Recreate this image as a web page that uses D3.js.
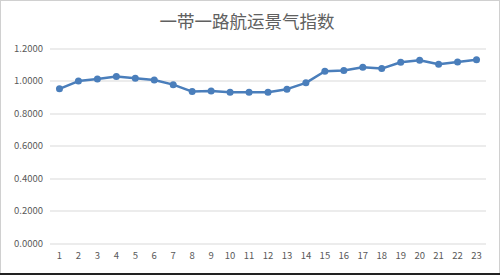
<!DOCTYPE html>
<html>
<head>
<meta charset="utf-8">
<script src="https://cdn.jsdelivr.net/npm/d3@7"></script>
<style>
  body { margin: 0; background: #fff; }
  svg { display: block; }
</style>
</head>
<body>
<div id="chart"></div>
<script>
'use strict'

// data
const categories = d3.range(1, 24).map(String)
const values = [0.951, 0.999, 1.012, 1.027, 1.017, 1.006, 0.977, 0.934, 0.938, 0.930, 0.930, 0.930,
                0.949, 0.988, 1.060, 1.064, 1.084, 1.076, 1.115, 1.128, 1.103, 1.117, 1.130]
const yTicks = [0, 0.2, 0.4, 0.6, 0.8, 1.0, 1.2]
const title = '一带一路航运景气指数'

const svgWidth = 500, svgHeight = 275
const margin = {left: 50, right: 14, top: 48.5, bottom: 32}
const width = svgWidth - margin.left - margin.right
const height = svgHeight - margin.top - margin.bottom

const lineColor = '#4a7ebb'
const textColor = '#595959'
const font = '"Microsoft YaHei", "Noto Sans CJK SC", "DejaVu Sans", sans-serif'

const svg = d3.select('#chart').append('svg')
    .attr('width', svgWidth)
    .attr('height', svgHeight)

// chart frame
svg.append('rect')
    .attr('x', 0.5).attr('y', 0.5)
    .attr('width', svgWidth - 1).attr('height', svgHeight - 2)
    .attr('fill', 'white')
    .attr('stroke', '#d0d0d0')
svg.append('line')
    .attr('x1', 0).attr('x2', svgWidth)
    .attr('y1', svgHeight - 1).attr('y2', svgHeight - 1)
    .attr('stroke', '#222').attr('stroke-width', 2)

svg.append('text')
    .attr('x', svgWidth / 2 - 3)
    .attr('y', 28)
    .attr('text-anchor', 'middle')
    .attr('font-family', font)
    .attr('font-size', 17.5)
    .attr('fill', '#606060')
    .text(title)

const g = svg.append('g')
    .attr('transform', `translate(${margin.left},${margin.top})`)

const x = d3.scaleBand().domain(categories).range([0, width])
const y = d3.scaleLinear().domain([0, 1.2]).range([height, 0])

// grid lines
g.append('g')
    .selectAll('line')
    .data(yTicks)
    .join('line')
    .attr('x1', 0).attr('x2', width)
    .attr('y1', d => Math.round(y(d)) + 0.5)
    .attr('y2', d => Math.round(y(d)) + 0.5)
    .attr('stroke', '#d9d9d9')
    .attr('stroke-width', 1)

// y axis labels
const yAxis = g.append('g')
    .call(d3.axisLeft(y).tickValues(yTicks).tickFormat(d3.format('.4f')).tickSize(0).tickPadding(7))
yAxis.select('.domain').remove()
yAxis.selectAll('text')
    .attr('font-family', font)
    .attr('font-size', 9.5)
    .attr('fill', textColor)

// x axis labels
const xAxis = g.append('g')
    .attr('transform', `translate(0,${height})`)
    .call(d3.axisBottom(x).tickSize(0).tickPadding(9))
xAxis.select('.domain').remove()
xAxis.selectAll('text')
    .attr('font-family', font)
    .attr('font-size', 9.5)
    .attr('fill', textColor)

const px = (d, i) => x(categories[i]) + x.bandwidth() / 2

g.append('path')
    .datum(values)
    .attr('fill', 'none')
    .attr('stroke', lineColor)
    .attr('stroke-width', 2.5)
    .attr('stroke-linejoin', 'round')
    .attr('d', d3.line().x(px).y(d => y(d)))

g.append('g')
    .selectAll('circle')
    .data(values)
    .join('circle')
    .attr('cx', px)
    .attr('cy', d => y(d))
    .attr('r', 3.5)
    .attr('fill', lineColor)
</script>
</body>
</html>
